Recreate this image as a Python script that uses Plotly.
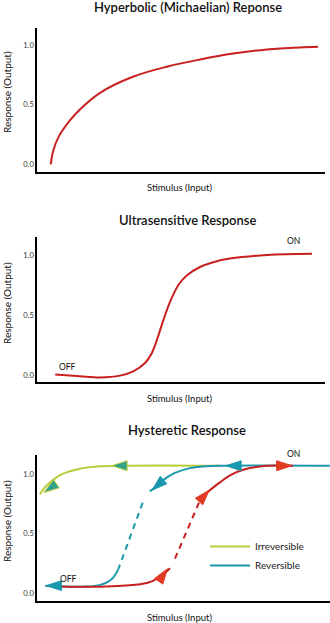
import plotly.graph_objects as go

# ---------------- data ----------------
# Panel 1: hyperbolic (Michaelian) response
hyp_x = [4.8, 5.6, 7.5, 11.5, 14.9, 21.9, 33.3, 45.1, 56.6, 68.1, 79.9, 91.3, 97.6]
hyp_y = [0.0, 0.11, 0.23, 0.37, 0.46, 0.60, 0.735, 0.82, 0.88, 0.93, 0.965, 0.982, 0.987]

# Panel 2: ultrasensitive response
ult_x = [6.3, 14.9, 21.9, 28.8, 33.4, 37.5, 39.8, 41.6, 43.9, 46.2, 49.1, 52.0, 56.6, 61.2, 67.0, 79.9, 95.5]
ult_y = [0.005, -0.01, -0.02, -0.005, 0.03, 0.10, 0.18, 0.29, 0.46, 0.61, 0.75, 0.83, 0.90, 0.94, 0.97, 1.0, 1.01]

# Panel 3: hysteretic response
irr_x = [1.0, 2.8, 4.5, 7.3, 9.7, 14.9, 21.9, 63.5]
irr_y = [0.83, 0.89, 0.93, 0.98, 1.01, 1.045, 1.065, 1.07]

rev_top_x = [101.7, 63.5, 58.3, 53.1, 47.9, 44.4, 41.0, 39.2]
rev_top_y = [1.07, 1.07, 1.065, 1.05, 1.01, 0.96, 0.89, 0.855]
rev_dash_x = [36.7, 28.2]
rev_dash_y = [0.76, 0.20]
rev_low_x = [28.2, 26.0, 22.0, 16.0, 8.0, 2.8]
rev_low_y = [0.20, 0.12, 0.07, 0.055, 0.057, 0.064]

on_low_x = [3.5, 11.5, 21.9, 30.6, 35.8, 39.9, 43.4, 46.2]
on_low_y = [0.06, 0.055, 0.055, 0.065, 0.075, 0.10, 0.15, 0.21]
on_dash_x = [47.9, 56.6]
on_dash_y = [0.29, 0.78]
on_top_x = [58.3, 60.8, 63.5, 67.0, 72.2, 79.9, 88.9]
on_top_y = [0.83, 0.88, 0.93, 0.99, 1.04, 1.07, 1.07]

# arrowheads (position, direction in degrees clockwise from up)
irr_arrow_x = [2.4, 26.0]
irr_arrow_y = [0.845, 1.07]
irr_arrow_dir = [235, 270]
rev_arrow_x = [65.6, 40.0, 3.2]
rev_arrow_y = [1.07, 0.865, 0.064]
rev_arrow_dir = [270, 228, 270]
on_arrow_x = [45.3, 59.8, 88.5]
on_arrow_y = [0.205, 0.865, 1.07]
on_arrow_dir = [35, 42, 90]

y_tick_vals = [0.0, 0.5, 1.0]
y_tick_text = ["0.0", "0.5", "1.0"]

titles = ["Hyperbolic (Michaelian) Reponse", "Ultrasensitive Response", "Hysteretic Response"]
x_title = "Stimulus (Input)"
y_title = "Response (Output)"

RED = "#c8201f"
GREEN = "#b9cc3a"
TEAL = "#1b98ad"
FONT = "Lato"

W, H = 330, 623


def py(px):
    return 1 - px / H


fig = go.Figure()

# panel 1
fig.add_trace(go.Scatter(x=hyp_x, y=hyp_y, mode="lines", line=dict(color=RED, width=2, shape="spline"),
                         xaxis="x", yaxis="y", showlegend=False))
# panel 2
fig.add_trace(go.Scatter(x=ult_x, y=ult_y, mode="lines", line=dict(color=RED, width=2, shape="spline"),
                         xaxis="x2", yaxis="y2", showlegend=False))

# panel 3
fig.add_trace(go.Scatter(x=irr_x, y=irr_y, mode="lines", line=dict(color=GREEN, width=2, shape="spline"),
                         xaxis="x3", yaxis="y3", name="Irreversible", showlegend=True))
fig.add_trace(go.Scatter(x=rev_top_x, y=rev_top_y, mode="lines", line=dict(color=TEAL, width=2, shape="spline"),
                         xaxis="x3", yaxis="y3", name="Reversible", showlegend=True))
fig.add_trace(go.Scatter(x=rev_dash_x, y=rev_dash_y, mode="lines", line=dict(color=TEAL, width=2, dash="6px,5px"),
                         xaxis="x3", yaxis="y3", showlegend=False))
fig.add_trace(go.Scatter(x=rev_low_x, y=rev_low_y, mode="lines", line=dict(color=TEAL, width=2, shape="spline"),
                         xaxis="x3", yaxis="y3", showlegend=False))
fig.add_trace(go.Scatter(x=on_low_x, y=on_low_y, mode="lines", line=dict(color=RED, width=2, shape="spline"),
                         xaxis="x3", yaxis="y3", showlegend=False))
fig.add_trace(go.Scatter(x=on_dash_x, y=on_dash_y, mode="lines", line=dict(color=RED, width=2, dash="6px,5px"),
                         xaxis="x3", yaxis="y3", showlegend=False))
fig.add_trace(go.Scatter(x=on_top_x, y=on_top_y, mode="lines", line=dict(color=RED, width=2, shape="spline"),
                         xaxis="x3", yaxis="y3", showlegend=False))

# arrowheads
for ax_, ay_, ad_, col, edge in [
    (irr_arrow_x, irr_arrow_y, irr_arrow_dir, "#2fa38c", GREEN),
    (rev_arrow_x, rev_arrow_y, rev_arrow_dir, TEAL, TEAL),
    (on_arrow_x, on_arrow_y, on_arrow_dir, "#e03a22", "#e03a22"),
]:
    fig.add_trace(go.Scatter(x=ax_, y=ay_, mode="markers", xaxis="x3", yaxis="y3", showlegend=False,
                             marker=dict(symbol="arrow", size=16, angle=ad_, color=col,
                                         line=dict(color=edge, width=1))))

# axes
common_y = dict(showline=True, linecolor="black", linewidth=1.5, showgrid=False, zeroline=False,
                tickvals=y_tick_vals, ticktext=y_tick_text, ticks="",
                tickfont=dict(family=FONT, size=7.5, color="#333"))
common_x = dict(showline=True, linecolor="black", linewidth=1.5, showgrid=False, zeroline=False,
                showticklabels=False, ticks="")

x_per_px = 100 / 288.0
fig.update_layout(
    width=W, height=H,
    margin=dict(l=0, r=0, t=0, b=0),
    paper_bgcolor="white", plot_bgcolor="white",
    font=dict(family=FONT, color="#111"),
    xaxis=dict(common_x, domain=[37 / W, 325 / W], range=[0, 100], anchor="y"),
    yaxis=dict(common_y, domain=[py(172), py(28)], range=[-0.065, 1.145], anchor="x"),
    xaxis2=dict(common_x, domain=[37 / W, 325 / W], range=[0, 100], anchor="y2"),
    yaxis2=dict(common_y, domain=[py(382), py(237)], range=[-0.058, 1.15], anchor="x2"),
    xaxis3=dict(common_x, domain=[37 / W, 1.0], range=[0, 293 * x_per_px], anchor="y3"),
    yaxis3=dict(common_y, domain=[py(601), py(455)], range=[-0.065, 1.16], anchor="x3"),
    legend=dict(x=205 / W, y=py(532), xanchor="left", yanchor="top", itemwidth=40,
                font=dict(family=FONT, size=10, color="#222"), bgcolor="rgba(0,0,0,0)",
                tracegroupgap=0),
)

ann = []
for t, (cx, cy) in zip(titles, [(188, 7), (187, 220), (187, 430)]):
    ann.append(dict(text=t, x=cx / W, y=py(cy), xref="paper", yref="paper", showarrow=False,
                    xanchor="center", yanchor="middle",
                    font=dict(family=FONT, size=13, color="#111", weight=600)))
for cy in [188, 398, 617]:
    ann.append(dict(text=x_title, x=179 / W, y=py(cy), xref="paper", yref="paper", showarrow=False,
                    xanchor="center", yanchor="middle", font=dict(family=FONT, size=9.5, color="#111")))
for cy in [92, 303, 521]:
    ann.append(dict(text=y_title, x=7 / W, y=py(cy), xref="paper", yref="paper", showarrow=False,
                    textangle=-90, xanchor="center", yanchor="middle",
                    font=dict(family=FONT, size=10, color="#111")))
for txt, cx, cy in [("OFF", 67, 366.7), ("ON", 293, 241), ("OFF", 68.5, 579), ("ON", 293.3, 454)]:
    ann.append(dict(text=txt, x=cx / W, y=py(cy), xref="paper", yref="paper", showarrow=False,
                    xanchor="center", yanchor="middle", font=dict(family=FONT, size=8.5, color="#111")))
fig.update_layout(annotations=ann)

fig.write_html("out.html")
